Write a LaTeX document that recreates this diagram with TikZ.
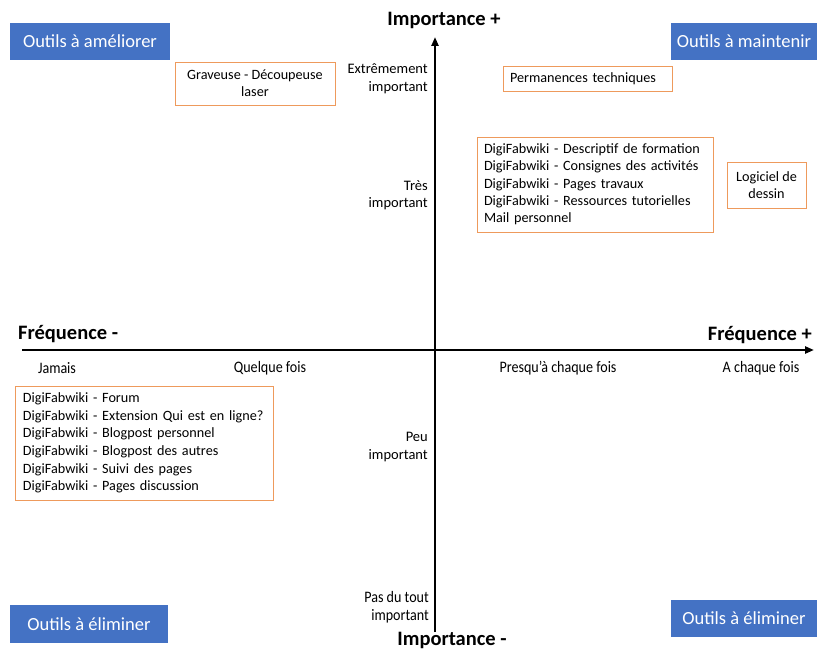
\documentclass[tikz,border=0pt]{standalone}
\usepackage{fontspec}
\setmainfont{Carlito}
\newfontfamily\cond[FakeStretch=0.88]{Carlito}
\usetikzlibrary{arrows.meta}
\definecolor{blueb}{HTML}{4472C4}
\definecolor{orb}{HTML}{EE9A5C}
\begin{document}
\begin{tikzpicture}[x=1pt,y=-1pt,
  bluebox/.style={fill=blueb,text=white,font=\fontsize{18.5}{21}\selectfont,inner sep=0pt},
  tagbox/.style={draw=orb,line width=0.7pt,fill=white,font=\fontsize{14.2}{17.3}\selectfont,inner sep=0pt},
  axisline/.style={line width=2.2pt,-{Triangle[length=9pt,width=7pt]}},
  axtitle/.style={font=\fontsize{20.5}{24}\selectfont\bfseries,inner sep=0pt},
  ticklab/.style={font=\cond\fontsize{16}{18}\selectfont,inner sep=0pt},
  vlab/.style={font=\fontsize{14.5}{17.5}\selectfont,align=right,anchor=east,inner sep=0pt}
]
\useasboundingbox (0,0) rectangle (822,650);
% axes
\coordinate (vb) at (435,632);
\coordinate (vt) at (435,37);
\coordinate (hl) at (22,350);
\coordinate (hr) at (814,350);
\draw[axisline] (vb) -- (vt);
\draw[axisline] (hl) -- (hr);
% axis titles
\node[axtitle] (impp) at (444,20) {Importance +};
\node[axtitle] (impm) at (452,640) {Importance -};
\node[axtitle,anchor=west] (freqm) at (18,334) {Fréquence -};
\node[axtitle,anchor=east] (freqp) at (812,335) {Fréquence +};
% frequency labels
\node[ticklab] (jam) at (57,368) {Jamais};
\node[ticklab] (quel) at (270,368) {Quelque fois};
\node[ticklab] (presq) at (558,368) {Presqu’à chaque fois};
\node[ticklab] (achq) at (761,368) {A chaque fois};
% importance labels
\node[vlab] (extr) at (428,79) {Extrêmement\\important};
\node[vlab] (tres) at (428,195) {Très\\important};
\node[vlab] (peu) at (428,447) {Peu\\important};
\node[vlab,font=\cond\fontsize{16}{17.5}\selectfont] (pas) at (429,607) {Pas du tout\\important};
% blue corner boxes
\node[bluebox,minimum width=160pt,minimum height=37pt] (amel) at (90,41.5) {Outils à améliorer};
\node[bluebox,minimum width=146pt,minimum height=37pt] (maint) at (744,41.5) {Outils à maintenir};
\node[bluebox,minimum width=158pt,minimum height=38pt] (elim1) at (89,624) {Outils à éliminer};
\node[bluebox,minimum width=146pt,minimum height=37pt] (elim2) at (744,618.5) {Outils à éliminer};
% orange boxes
\node[tagbox,minimum width=160pt,minimum height=43pt,align=center] (grav) at (255,83.5) {Graveuse - Découpeuse\\laser};
\node[tagbox,minimum width=169pt,minimum height=25pt,align=left,text width=155pt,inner xsep=7pt] (perm) at (587.5,78.5) {Permanences techniques};
\node[tagbox,minimum width=236pt,minimum height=95pt,align=left,text width=222pt,inner xsep=7pt] (digi1) at (595,184.5) {DigiFabwiki - Descriptif de formation\\DigiFabwiki - Consignes des activités\\DigiFabwiki - Pages travaux\\DigiFabwiki - Ressources tutorielles\\Mail personnel};
\node[tagbox,minimum width=79pt,minimum height=46pt,align=center] (logi) at (766.5,185) {Logiciel de\\dessin};
\node[tagbox,font=\fontsize{14.2}{17.6}\selectfont,minimum width=258pt,minimum height=114pt,align=left,text width=242pt,inner xsep=8pt] (digi2) at (144,443) {DigiFabwiki - Forum\\DigiFabwiki - Extension Qui est en ligne?\\DigiFabwiki - Blogpost personnel\\DigiFabwiki - Blogpost des autres\\DigiFabwiki - Suivi des pages\\DigiFabwiki - Pages discussion};
\end{tikzpicture}
\end{document}
